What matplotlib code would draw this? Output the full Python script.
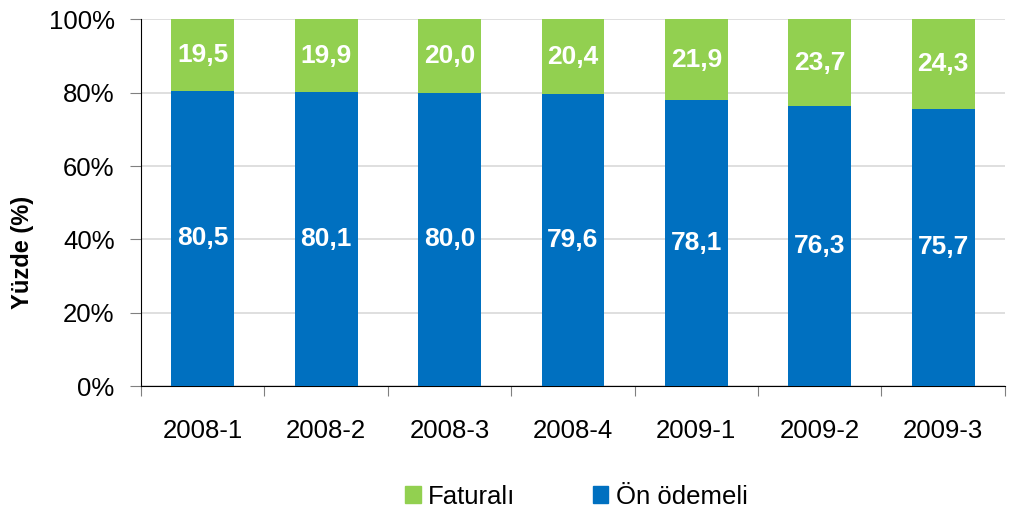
import matplotlib
matplotlib.use("Agg")
import matplotlib.pyplot as plt
import numpy as np

categories = ["2008-1", "2008-2", "2008-3", "2008-4", "2009-1", "2009-2", "2009-3"]
on_odemeli = [80.5, 80.1, 80.0, 79.6, 78.1, 76.3, 75.7]
faturali = [19.5, 19.9, 20.0, 20.4, 21.9, 23.7, 24.3]
yticks = [0, 20, 40, 60, 80, 100]

plt.rcParams['font.family'] = ['Liberation Sans', 'DejaVu Sans']

fig = plt.figure(figsize=(10.15, 5.12), dpi=100)
ax = fig.add_axes([0.139, 0.246, 0.851, 0.716])

x = np.arange(len(categories))
blue = "#0070C0"
green = "#92D050"
w = 0.51
ax.bar(x, on_odemeli, width=w, color=blue, zorder=3)
ax.bar(x, faturali, width=w, bottom=on_odemeli, color=green, zorder=3)

for xi, v in zip(x, on_odemeli):
    ax.text(xi, v / 2, f"{v:.1f}".replace(".", ","), ha="center", va="center",
            color="white", fontsize=19, fontweight="bold", zorder=4)
for xi, b, v in zip(x, on_odemeli, faturali):
    ax.text(xi, b + v / 2, f"{v:.1f}".replace(".", ","), ha="center", va="center",
            color="white", fontsize=19, fontweight="bold", zorder=4)

ax.set_xlim(-0.5, len(categories) - 0.5)
ax.set_ylim(0, 100)
ax.set_yticks(yticks)
ax.set_yticklabels([f"{t}%" for t in yticks], fontsize=18.5)
ax.yaxis.grid(True, color="#D9D9D9", linewidth=1.2, zorder=0)
ax.set_axisbelow(True)

ax.set_xticks(np.arange(len(categories) + 1) - 0.5)
ax.set_xticklabels([])
ax.set_xticks(x, minor=True)
ax.set_xticklabels(categories, minor=True, fontsize=18.5)
ax.tick_params(axis="x", which="minor", length=0, pad=24)
ax.tick_params(axis="x", which="major", length=7, color="#808080")
ax.tick_params(axis="y", length=8, color="#808080", pad=11)

for s in ["top", "right"]:
    ax.spines[s].set_visible(False)
ax.spines["left"].set_color("black")
ax.spines["bottom"].set_color("black")

fig.text(22 / 1015, 1 - 252 / 512, "Yüzde (%)", rotation=90, ha="center", va="center",
         fontsize=17, fontweight="bold")

handles = [plt.Rectangle((0, 0), 1, 1, color=green), plt.Rectangle((0, 0), 1, 1, color=blue)]
fig.legend(handles, ["Faturalı", "Ön ödemeli"], loc="center", bbox_to_anchor=(0.568, 0.03),
           ncol=2, frameon=False, fontsize=18.5, handlelength=0.6, handleheight=0.6,
           columnspacing=3.0, handletextpad=0.3)

fig.savefig("out.png", dpi=100)
